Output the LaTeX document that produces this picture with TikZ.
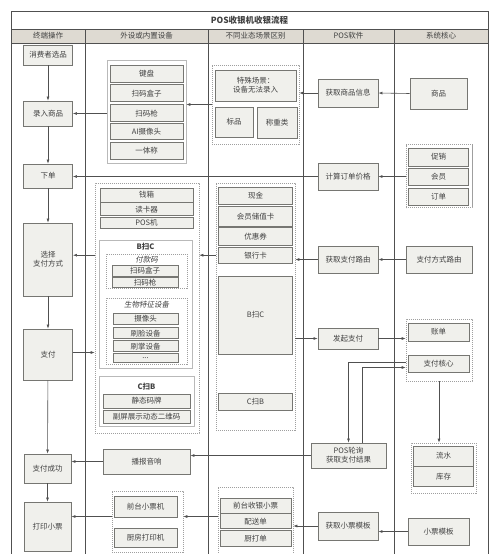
\documentclass[tikz,border=0pt]{standalone}
\usepackage{fontspec}
\setmainfont{Noto Sans CJK SC}
\newfontfamily\slantfont[FakeSlant=0.2]{Noto Sans CJK SC}
\usetikzlibrary{arrows.meta,positioning}

\definecolor{linegray}{RGB}{80,80,80}
\definecolor{boxfill}{RGB}{240,240,236}
\definecolor{boxline}{RGB}{118,118,114}
\definecolor{headfill}{RGB}{222,218,210}
\definecolor{txtgray}{RGB}{65,65,65}

\begin{document}
\begin{tikzpicture}[x=1pt,y=-1pt,
  sz/.style 2 args={minimum width=#1pt,minimum height=#2pt},
  box/.style={draw=boxline,fill=boxfill,line width=0.9pt,inner sep=0pt,text=txtgray,font=\fontsize{7.5}{9}\selectfont,align=center},
  grp/.style={draw=gray!75,dash pattern=on 1.2pt off 0.8pt,line width=0.6pt,inner sep=0pt},
  frm/.style={draw=gray!55,line width=0.6pt,inner sep=0pt},
  lbl/.style={text=txtgray,font=\fontsize{7.5}{9}\selectfont,inner sep=0pt},
  arr/.style={draw=linegray,line width=0.6pt,-{Latex[length=4pt,width=3pt]}},
  lane/.style={draw=linegray,line width=0.7pt}]

\useasboundingbox (0,0) rectangle (500,554);
\fill[headfill] (11,29) rectangle (488,43);
\draw[lane] (11,554) -- (11,11) -- (488,11) -- (488,554);
\draw[lane] (11,29) -- (488,29) (11,43) -- (488,43);
\foreach \x in {85,208,303,394} \draw[lane] (\x,29) -- (\x,554);

\node[lbl,font=\bfseries\fontsize{8.5}{10}\selectfont] (title) at (249.5,20) {POS收银机收银流程};
\node[lbl] (h1) at (48,36) {终端操作};
\node[lbl] (h2) at (146.5,36) {外设或内置设备};
\node[lbl] (h3) at (255.5,36) {不同业态场景区别};
\node[lbl] (h4) at (348.5,36) {POS软件};
\node[lbl] (h5) at (441,36) {系统核心};

% terminal
\node[box,sz={49}{20}] (pick) at (48,55) {消费者选品};
\node[box,sz={49}{25}] (input) at (48,113.5) {录入商品};
\node[box,sz={49}{24}] (order) at (48,176) {下单};
\node[box,sz={49}{73}] (select) at (48,259.5) {选择\\支付方式};
\node[box,sz={49}{51}] (pay) at (48,354.5) {支付};
\node[box,sz={47}{29}] (success) at (47.5,468.5) {支付成功};
\node[box,sz={47}{49}] (print) at (47.5,526.5) {打印小票};

% devices
\node[frm,sz={79}{103}] (g2a) at (146.5,111.5) {};
\node[box,sz={73}{17}] (kb) at (146.5,73.5) {键盘};
\node[box,sz={73}{17},below=2pt of kb] (scanbox) {扫码盒子};
\node[box,sz={73}{17},below=2pt of scanbox] (scangun) {扫码枪};
\node[box,sz={73}{16},below=1pt of scangun] (aicam) {AI摄像头};
\node[box,sz={73}{17},below=2pt of aicam] (scale) {一体称};

\node[grp,sz={104}{250}] (g2b) at (147,308) {};
\node[box,sz={93}{14}] (cash) at (146.5,195) {钱箱};
\node[box,sz={93}{13},below=0pt of cash] (reader) {读卡器};
\node[box,sz={93}{11}] (posm) at (146.5,223) {POS机};
\node[frm,sz={93}{128}] (bsc) at (145.5,304) {};
\node[lbl,font=\bfseries\fontsize{7.5}{9}\selectfont] (bsct) at (145.5,247) {B扫C};
\node[grp,sz={81}{34}] (paycode) at (146.5,271) {};
\node[lbl,font=\slantfont\fontsize{7.5}{9}\selectfont] (paycodet) at (146.5,260) {付款码};
\node[box,sz={66}{11}] (pbox) at (145,270.5) {扫码盒子};
\node[box,sz={66}{10},below=0.5pt of pbox] (pgun) {扫码枪};
\node[grp,sz={81}{66}] (bio) at (146.5,331) {};
\node[lbl,font=\slantfont\fontsize{7.5}{9}\selectfont] (biot) at (146.5,305) {生物特征设备};
\node[box,sz={65}{11}] (cam) at (145.5,318.5) {摄像头};
\node[box,sz={65}{11},below=3pt of cam] (face) {刷脸设备};
\node[box,sz={65}{11},below=1pt of face] (palm) {刷掌设备};
\node[box,sz={65}{9},below=0.5pt of palm] (more) {...};
\node[frm,sz={95}{50}] (csb) at (146.5,401) {};
\node[lbl,font=\bfseries\fontsize{7.5}{9}\selectfont] (csbt) at (146.5,387) {C扫B};
\node[box,sz={87}{14}] (static) at (146.5,401) {静态码牌};
\node[box,sz={87}{13},below=1.5pt of static] (dyn) {副屏展示动态二维码};

\node[box,sz={87}{25}] (sound) at (146.5,461.5) {播报音响};
\node[grp,sz={71}{61}] (g2c) at (147.5,521.5) {};
\node[box,sz={63}{21}] (frontp) at (145.5,506.5) {前台小票机};
\node[box,sz={63}{19}] (kitchenp) at (145.5,537.5) {厨房打印机};

% scenes
\node[grp,sz={87}{79}] (g3a) at (255.5,104.5) {};
\node[box,sz={81}{31}] (special) at (255.5,85.5) {特殊场景：\\设备无法录入};
\node[box,sz={38}{30}] (std) at (234,122) {标品};
\node[box,sz={40}{31}] (weigh) at (277,122.5) {称重类};

\node[grp,sz={79}{247}] (g3b) at (255.5,306.5) {};
\node[box,sz={74}{17}] (money) at (255.5,195.5) {现金};
\node[box,sz={74}{20},below=1.5pt of money] (card) {会员储值卡};
\node[box,sz={74}{18},below=0.5pt of card] (coupon) {优惠券};
\node[box,sz={74}{16},below=0.5pt of coupon] (bank) {银行卡};
\node[box,sz={74}{78}] (bscs) at (255.5,315) {B扫C};
\node[box,sz={74}{17}] (csbs) at (255.5,401.5) {C扫B};

\node[grp,sz={75}{73}] (g3c) at (255.5,523.5) {};
\node[box,sz={71}{15}] (frontr) at (255.5,505.5) {前台收银小票};
\node[box,sz={71}{15},below=0pt of frontr] (deliver) {配送单};
\node[box,sz={71}{16},below=1pt of deliver] (kitchen) {厨打单};

% pos software
\node[box,sz={60}{28}] (info) at (348,93) {获取商品信息};
\node[box,sz={60}{27}] (calc) at (348,176.5) {计算订单价格};
\node[box,sz={60}{27}] (getroute) at (348,259.5) {获取支付路由};
\node[box,sz={60}{21}] (launch) at (348,338.5) {发起支付};
\node[box,sz={75}{25}] (poll) at (348.5,455.5) {POS轮询\\获取支付结果};
\node[box,sz={60}{28}] (gettpl) at (348,526) {获取小票模板};

% core
\node[box,sz={57}{31}] (goods) at (438.5,93.5) {商品};
\node[grp,sz={66}{63}] (g5a) at (439,176) {};
\node[box,sz={60}{18}] (promo) at (438.5,157) {促销};
\node[box,sz={60}{17},below=1.5pt of promo] (member) {会员};
\node[box,sz={60}{17},below=2pt of member] (bill) {订单};
\node[box,sz={66}{27}] (route) at (439,259.5) {支付方式路由};
\node[grp,sz={66}{62}] (g5b) at (439,350) {};
\node[box,sz={61}{18}] (acct) at (438.5,332) {账单};
\node[box,sz={61}{17}] (core) at (438.5,363.5) {支付核心};
\node[grp,sz={65}{50}] (g5c) at (443.5,468) {};
\node[box,sz={60}{20}] (flow) at (443.5,456) {流水};
\node[box,sz={60}{20},below=0pt of flow] (stock) {库存};
\node[box,sz={61}{27}] (tpl) at (438.5,531.5) {小票模板};

\draw[arr] (pick) -- (input);
\draw[arr] (input) -- (order);
\draw[arr] (order) -- (select);
\draw[arr] (select) -- (pay);
\draw[arr] (pay) -- (success);
\draw[arr] (success) -- (print);

\draw[arr] (goods.west) -- (info.east);
\draw[arr] (info.west) -- (g3a.east |- info.west);
\draw[arr] (g3a.west) -- (g2a.east |- g3a.west);
\draw[arr] (g2a.west |- input.east) -- (input.east);

\draw[arr] (g5a.west |- calc.east) -- (calc.east);
\draw[arr] (calc.west) -- (order.east |- calc.west);

\draw[arr] (route.west) -- (getroute.east);
\draw[arr] (getroute.west) -- (g3b.east |- getroute.west);
\draw[arr] (g3b.west |- bank.west) -- (g2b.east |- bank.west);
\draw[arr] (g2b.west |- bank.west) -- (select.east |- bank.west);

\draw[arr] ([yshift=2pt]pay.east) -- ([yshift=2pt]g2b.west |- pay.east);
\draw[arr] (g3b.east |- launch.west) -- (launch.west);
\draw[arr] (launch.east) -- (g5b.west |- launch.east);

\draw[arr] ([yshift=1pt]g5b.west |- core.west) -| (poll.north);
\draw[arr] ([xshift=14pt]poll.north) |- ([yshift=-4pt]g5b.west |- core.west);
\draw[arr] (g5b.south) -- (g5c.north -| g5b.south);

\draw[arr] (poll.west) -- (sound.east |- poll.west);
\draw[arr] (sound.west) -- (success.east |- sound.west);

\draw[arr] (tpl.west) -- (gettpl.east |- tpl.west);
\draw[arr] (gettpl.west) -- (g3c.east |- gettpl.west);
\draw[arr] ([yshift=5pt]g3c.west |- g2c.west) -- ([yshift=5pt]g2c.east);
\draw[arr] ([yshift=5pt]g2c.west) -- ([yshift=5pt]print.east |- g2c.west);
\end{tikzpicture}
\end{document}
